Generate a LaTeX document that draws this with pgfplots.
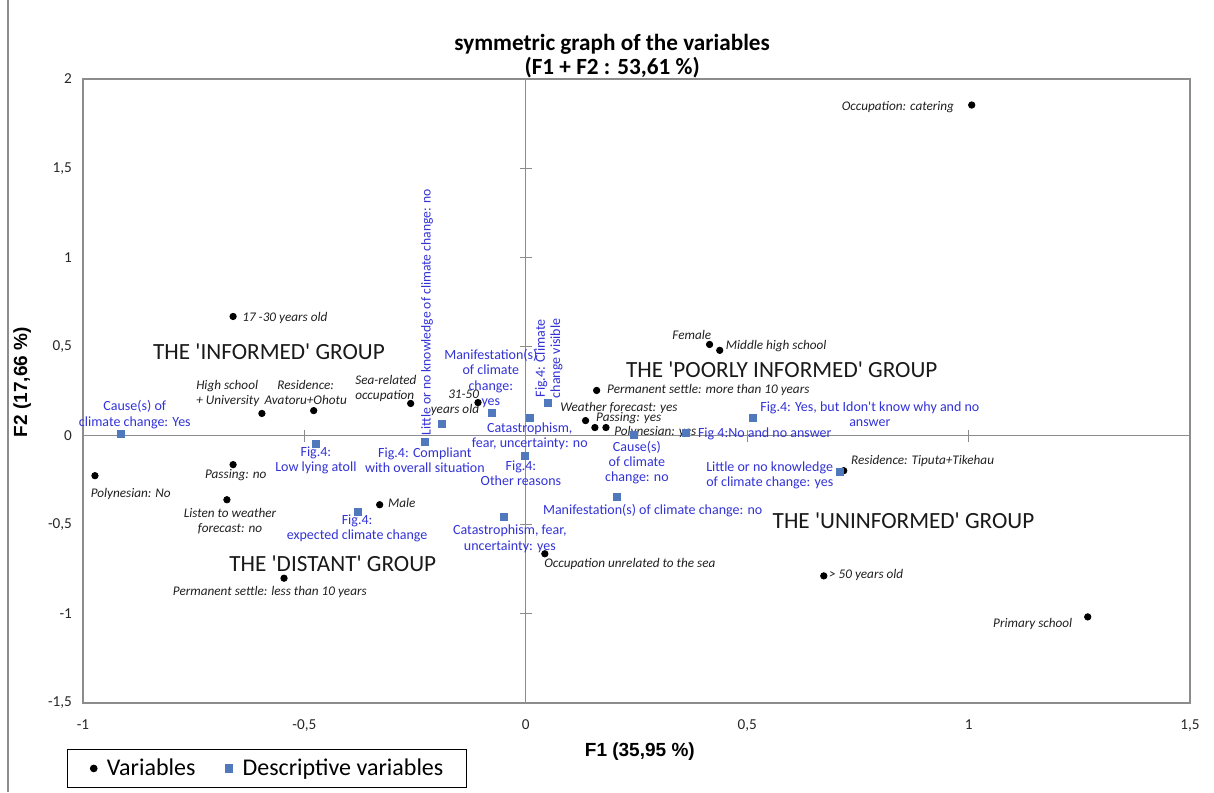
\documentclass[border=0pt]{standalone}
\usepackage{pgfplots}
\pgfplotsset{compat=1.18}
\usepackage{fontspec}
\setmainfont{Carlito}
\newfontfamily\arialf{Liberation Sans}
\definecolor{ptblue}{RGB}{79,120,189}
\definecolor{lblblue}{RGB}{50,50,215}
\definecolor{axgray}{RGB}{140,140,140}
\pgfplotsset{pointlegend/.style={legend image code/.code={\draw[##1] plot coordinates {(0pt,0pt)};}}}
\begin{document}
\begin{tikzpicture}[x=1pt,y=1pt,
  vl/.style={inner sep=0pt, font=\fontsize{6.6}{7.6}\selectfont\itshape, text=black!88},
  dl/.style={inner sep=0pt, font=\fontsize{7}{7.6}\selectfont, text=lblblue},
  gl/.style={inner sep=0pt, font=\fontsize{11.6}{13}\selectfont, text=black!90}]
\useasboundingbox (0,0) rectangle (607,396);
\draw[axgray, line width=0.6pt] (4,0) -- (4,396);
\begin{axis}[
  at={(41.5pt,44.5pt)}, anchor=south west,
  scale only axis, width=553.5pt, height=312pt,
  xmin=-1, xmax=1.5, ymin=-1.5, ymax=2,
  xtick={-1,-0.5,0,0.5,1,1.5}, ytick={-1.5,-1,-0.5,0,0.5,1,1.5,2},
  major tick length=0pt,
  axis line style={axgray, line width=0.6pt},
  /pgf/number format/assume math mode=true,
  /pgf/number format/use comma,
  tick label style={font=\fontsize{7.6}{9}\selectfont, text=black!85},
  xticklabel style={yshift=-5pt},
  yticklabel style={xshift=-2pt},
  xlabel={\arialf\bfseries F1 (35,95 \%)},
  x label style={at={(axis description cs:0.503,-0.0785)}, anchor=center, font=\fontsize{9.5}{11}\selectfont},
  ylabel={\arialf\bfseries F2 (17,66 \%)},
  y label style={at={(axis description cs:-0.055,0.514)}, anchor=center, font=\fontsize{9.5}{11}\selectfont},
  title={symmetric graph of the variables\\(F1 + F2 : 53,61 \%)},
  title style={align=center, font=\fontsize{11.6}{12}\selectfont\bfseries, at={(axis description cs:0.478,1.017)}, anchor=center},
  legend style={at={(-0.0145,-0.136)}, anchor=south west, legend columns=2, draw=black, line width=0.6pt,
    font=\fontsize{12}{14}\selectfont, inner xsep=11.5pt, inner ysep=4.5pt, nodes={inner sep=0pt},
    /tikz/every odd column/.append style={column sep=5pt},
    /tikz/every even column/.append style={column sep=15pt}},
  legend cell align=left,
  pointlegend,
  clip=false,
]
\draw[axgray, line width=0.6pt] (axis cs:-1,0) -- (axis cs:1.5,0);
\draw[axgray, line width=0.6pt] (axis cs:0,-1.5) -- (axis cs:0,2);
\pgfplotsinvokeforeach{-0.5,0.5,1}{\draw[axgray, line width=0.6pt] (axis cs:#1,0) ++(0pt,-3pt) -- ++(0pt,6pt);}
\pgfplotsinvokeforeach{-1,-0.5,0.5,1,1.5}{\draw[axgray, line width=0.6pt] (axis cs:0,#1) ++(-3pt,0pt) -- ++(6pt,0pt);}

\addplot[only marks, mark=*, mark size=1.6pt, mark options={draw=black, fill=black}] table {
x y
-0.661 0.668
-0.596 0.124
-0.479 0.140
-0.260 0.180
-0.108 0.185
-0.973 -0.225
-0.661 -0.163
-0.675 -0.360
-0.330 -0.388
-0.546 -0.800
0.043 -0.663
0.160 0.253
0.135 0.084
0.156 0.045
0.181 0.045
0.415 0.511
0.438 0.478
1.007 1.854
0.718 -0.197
0.673 -0.787
1.269 -1.017
};
\addlegendentry{Variables}
\addplot[only marks, mark=square*, mark size=1.75pt, mark options={draw=ptblue, fill=ptblue}] table {
x y
-0.914 0.011
-0.474 -0.045
-0.379 -0.427
-0.228 -0.034
-0.190 0.067
-0.077 0.129
0.009 0.101
0.050 0.185
-0.002 -0.112
-0.050 -0.455
0.244 0.006
0.205 -0.343
0.361 0.017
0.512 0.101
0.709 -0.202
};
\addlegendentry{Descriptive variables}

% variable labels
\node[vl, anchor=west] at (axis cs:-0.641,0.657) {17 -30 years old};
\node[vl, align=left] at (axis cs:-0.673,0.236) {High school\\+ University};
\node[vl, align=center] at (axis cs:-0.497,0.242) {Residence:\\Avatoru+Ohotu};
\node[vl, align=left] at (axis cs:-0.316,0.264) {Sea-related\\occupation};
\node[vl, align=right] at (axis cs:-0.160,0.185) {31-50\\years old};
\node[vl] at (axis cs:-0.892,-0.326) {Polynesian: No};
\node[vl] at (axis cs:-0.655,-0.219) {Passing: no};
\node[vl, align=center] at (axis cs:-0.668,-0.478) {Listen to weather\\forecast: no};
\node[vl, anchor=west] at (axis cs:-0.312,-0.376) {Male};
\node[vl] at (axis cs:-0.578,-0.876) {Permanent settle: less than 10 years};
\node[vl, anchor=west] at (axis cs:0.041,-0.719) {Occupation unrelated to the sea};
\node[vl, anchor=west] at (axis cs:0.183,0.258) {Permanent settle: more than 10 years};
\node[vl, anchor=west] at (axis cs:0.077,0.152) {Weather forecast: yes};
\node[vl, anchor=west] at (axis cs:0.158,0.096) {Passing: yes};
\node[vl, anchor=west] at (axis cs:0.199,0.022) {Polynesian: yes};
\node[vl] at (axis cs:0.375,0.562) {Female};
\node[vl, anchor=west] at (axis cs:0.451,0.500) {Middle high school};
\node[vl, anchor=east] at (axis cs:0.968,1.843) {Occupation: catering};
\node[vl, anchor=west] at (axis cs:0.734,-0.140) {Residence: Tiputa+Tikehau};
\node[vl, anchor=west] at (axis cs:0.684,-0.781) {> 50 years old};
\node[vl, anchor=east] at (axis cs:1.235,-1.056) {Primary school};

% descriptive labels
\node[dl, align=center] at (axis cs:-0.883,0.118) {Cause(s) of\\climate change: Yes};
\node[dl, align=center] at (axis cs:-0.474,-0.140) {Fig.4:\\Low lying atoll};
\node[dl, align=center] at (axis cs:-0.228,-0.140) {Fig.4: Compliant\\with overall situation};
\node[dl, align=center] at (axis cs:-0.381,-0.522) {Fig.4:\\expected climate change};
\node[dl, rotate=90, font=\fontsize{6.8}{7.6}\selectfont] at (axis cs:-0.223,0.691) {Little or no knowledge of climate change: no};
\node[dl, align=center] at (axis cs:-0.079,0.320) {Manifestation(s)\\of climate\\change:\\yes};
\node[dl, align=center, rotate=90] at (axis cs:0.052,0.433) {Fig.4: Climate\\change visible};
\node[dl, align=center] at (axis cs:0.009,-0.005) {Catastrophism,\\fear, uncertainty: no};
\node[dl, align=center] at (axis cs:-0.011,-0.213) {Fig.4:\\Other reasons};
\node[dl, align=center] at (axis cs:-0.036,-0.579) {Catastrophism, fear,\\uncertainty: yes};
\node[dl, align=center] at (axis cs:0.251,-0.152) {Cause(s)\\of climate\\change: no};
\node[dl, anchor=west] at (axis cs:0.038,-0.421) {Manifestation(s) of climate change: no};
\node[dl, anchor=west] at (axis cs:0.388,0.011) {Fig 4:No and no answer};
\node[dl, align=center] at (axis cs:0.777,0.118) {Fig.4: Yes, but Idon\textquotesingle t know why and no\\answer};
\node[dl, align=left] at (axis cs:0.551,-0.225) {Little or no knowledge\\of climate change: yes};

% group labels
\node[gl] at (axis cs:-0.580,0.472) {THE \textquotesingle INFORMED\textquotesingle{} GROUP};
\node[gl] at (axis cs:-0.436,-0.719) {THE \textquotesingle DISTANT\textquotesingle{} GROUP};
\node[gl] at (axis cs:0.578,0.371) {THE \textquotesingle POORLY INFORMED\textquotesingle{} GROUP};
\node[gl] at (axis cs:0.853,-0.478) {THE \textquotesingle UNINFORMED\textquotesingle{} GROUP};
\end{axis}
\end{tikzpicture}
\end{document}
